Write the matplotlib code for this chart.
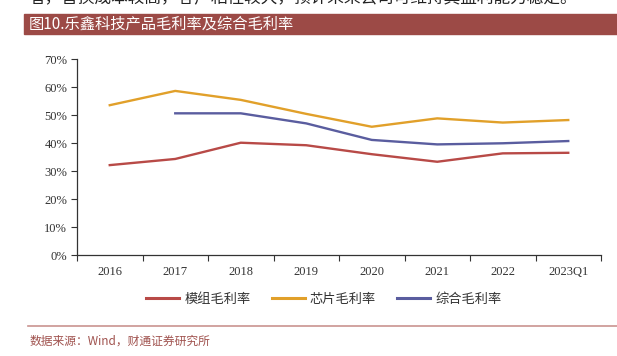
import matplotlib.pyplot as plt
from matplotlib.lines import Line2D
import numpy as np

plt.rcParams['font.family'] = ['Noto Sans CJK SC', 'DejaVu Sans']

years = ['2016', '2017', '2018', '2019', '2020', '2021', '2022', '2023Q1']
module_margin = [32.1, 34.3, 40.1, 39.2, 36.0, 33.3, 36.3, 36.5]
chip_margin = [53.5, 58.6, 55.4, 50.4, 45.8, 48.8, 47.3, 48.2]
total_margin = [np.nan, 50.6, 50.6, 47.0, 41.1, 39.5, 39.9, 40.7]

c_red = '#B84A47'
c_yel = '#E1A02A'
c_blu = '#5A5D9F'
band = '#9C4A46'

fig = plt.figure(figsize=(6.17, 3.56), dpi=100)
W, H = 617, 356

# cut-off line of report text at the very top
fig.text(28 / W, 1 + 1 / H, '者，替换成本较高，客户粘性较大，预计未来公司可维持其盈利能力稳定。',
         fontsize=12, color='#222222', va='center', ha='left')

# title band
fig.patches.append(plt.Rectangle((24 / W, 1 - 34 / H), 1 - 24 / W, 20 / H,
                                 transform=fig.transFigure, color=band, zorder=0))
fig.text(29 / W, 1 - 24 / H, '图10.乐鑫科技产品毛利率及综合毛利率', fontsize=11,
         color='white', va='center', ha='left')

ax = fig.add_axes([77 / W, 1 - 255 / H, (601 - 77) / W, (255 - 59) / H])
x = np.arange(len(years))
ax.plot(x, module_margin, color=c_red, lw=1.7)
ax.plot(x, chip_margin, color=c_yel, lw=1.7)
ax.plot(x, total_margin, color=c_blu, lw=1.7)

ax.set_xlim(-0.5, len(years) - 0.5)
ax.set_ylim(0, 70)
ax.set_yticks(range(0, 71, 10))
ax.set_yticklabels([f'{v}%' for v in range(0, 71, 10)], family='Liberation Serif',
                   fontsize=9, color='#333333')
ax.set_xticks(np.arange(-0.5, len(years)), labels=[''] * (len(years) + 1))
ax.set_xticks(x, labels=years, minor=True)
ax.tick_params(axis='x', which='major', length=4, direction='out', color='#333333')
ax.tick_params(axis='x', which='minor', length=0, pad=8, labelsize=9,
               labelcolor='#333333')
for lab in ax.get_xticklabels(minor=True):
    lab.set_family('Liberation Serif')
ax.tick_params(axis='y', length=4, direction='out', color='#333333', pad=3)
for s in ['top', 'right']:
    ax.spines[s].set_visible(False)
for s in ['left', 'bottom']:
    ax.spines[s].set_color('#333333')
    ax.spines[s].set_linewidth(0.9)

# legend
handles = [Line2D([], [], color=c, lw=2.2) for c in (c_red, c_yel, c_blu)]
fig.legend(handles, ['模组毛利率', '芯片毛利率', '综合毛利率'], loc='center',
           bbox_to_anchor=(0.525, 1 - 299 / H), ncol=3, frameon=False, fontsize=9.5,
           handlelength=2.5, columnspacing=1.6, handletextpad=0.4, labelcolor='#333333')

# source line and note
fig.add_artist(Line2D([28 / W, 1], [1 - 326 / H, 1 - 326 / H], color='#C99390', lw=1.2))
fig.text(30 / W, 1 - 341 / H, '数据来源：Wind，财通证券研究所', fontsize=8.5,
         color='#A0524E', va='center', ha='left')

fig.savefig('out.png', dpi=100)
